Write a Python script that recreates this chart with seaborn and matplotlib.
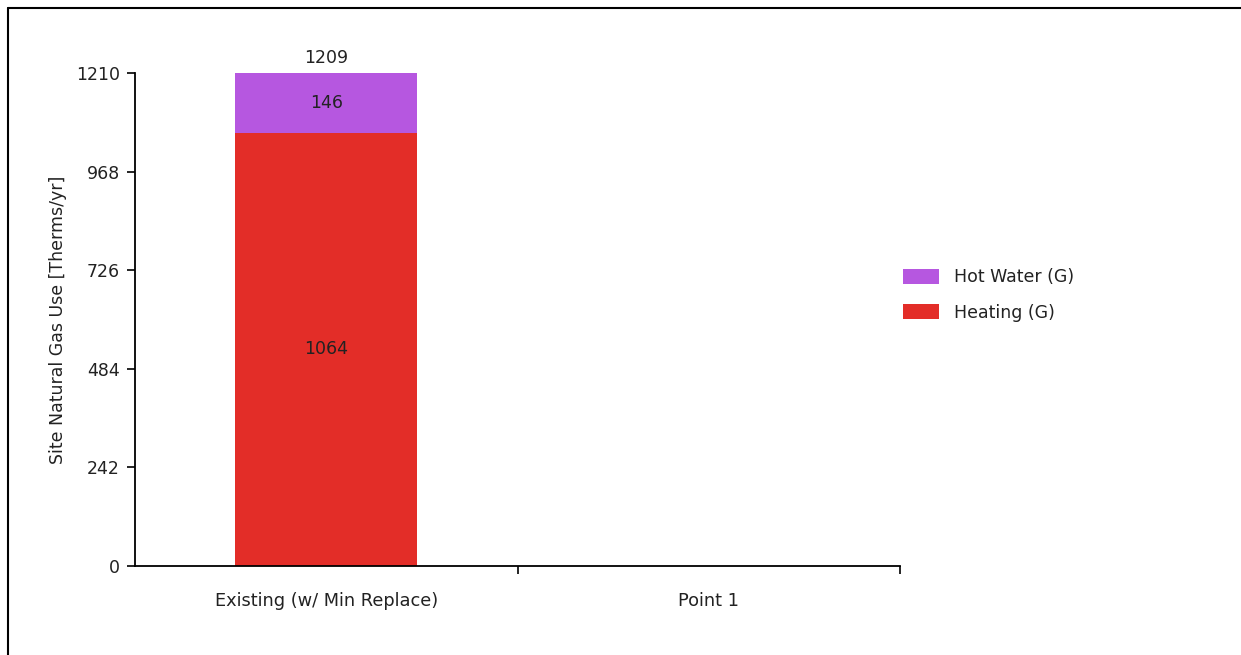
import matplotlib
matplotlib.use("Agg")
import matplotlib.pyplot as plt
from matplotlib.lines import Line2D
from matplotlib.patches import Patch
import seaborn as sns
import pandas as pd

categories = ["Existing (w/ Min Replace)", "Point 1"]
heating = [1063.6, 0.0]
hot_water = [145.6, 0.0]
y_ticks = [0, 242, 484, 726, 968, 1210]

series_names = ["Hot Water (G)", "Heating (G)"]
colors = {"Hot Water (G)": "#B657E0", "Heating (G)": "#E32D28"}

totals = [h + w for h, w in zip(heating, hot_water)]
df = pd.DataFrame({"category": categories, "heating": heating,
                   "hot_water": hot_water, "total": totals})

sns.set_theme(style="ticks")
plt.rcParams["font.family"] = ["DejaVu Sans"]
FS = 12.5
TXT = "#222222"

fig = plt.figure(figsize=(12.41, 6.55), dpi=100)
ax = fig.add_axes([135 / 1241, 1 - 566 / 655, (900 - 135) / 1241, (566 - 73) / 655])

# stacked bars: full stack in the hot-water colour, heating drawn over it
sns.barplot(data=df, x="category", y="total", color=colors["Hot Water (G)"],
            width=0.475, saturation=1, ax=ax, linewidth=0)
sns.barplot(data=df, x="category", y="heating", color=colors["Heating (G)"],
            width=0.475, saturation=1, ax=ax, linewidth=0)

ax.set_xlim(-0.5, 1.5)
ax.set_ylim(0, 1210)
ax.set_yticks(y_ticks)
ax.set_yticklabels([str(t) for t in y_ticks], fontsize=FS, color=TXT)
ax.set_xticks([0.5, 1.5])
ax.set_xticklabels([])
for i, c in enumerate(categories):
    ax.text(i, -0.052, c, transform=ax.get_xaxis_transform(), ha="center",
            va="top", fontsize=12.8, color=TXT)
ax.tick_params(axis="y", length=6, width=1.2, color="black", direction="out", pad=5)
ax.tick_params(axis="x", length=6, width=1.2, color="black", direction="out")
ax.set_xlabel("")
ax.set_ylabel("Site Natural Gas Use [Therms/yr]", fontsize=FS, color=TXT,
              labelpad=6)
sns.despine(ax=ax)
for s in ["left", "bottom"]:
    ax.spines[s].set_color("black")
    ax.spines[s].set_linewidth(1.3)

# value labels
for i in range(len(categories)):
    if totals[i] <= 0:
        continue
    ax.text(i, heating[i] / 2, f"{heating[i]:.0f}", ha="center", va="center",
            fontsize=FS, color=TXT)
    ax.text(i, heating[i] + hot_water[i] / 2, f"{hot_water[i]:.0f}", ha="center",
            va="center", fontsize=FS, color=TXT)
    ax.text(i, totals[i] + 16, f"{totals[i]:.0f}", ha="center", va="bottom",
            fontsize=FS, color=TXT)

handles = [Patch(facecolor=colors[n], edgecolor="none", label=n) for n in series_names]
fig.legend(handles=handles, loc="center left",
           bbox_to_anchor=(887 / 1241, 1 - 295 / 655), frameon=False,
           fontsize=FS, handlelength=2.1, handleheight=0.95,
           handletextpad=0.85, labelspacing=1.0, labelcolor=TXT)

# frame lines along the top and left edges
fig.add_artist(Line2D([8 / 1241, 1], [1 - 7.5 / 655, 1 - 7.5 / 655],
                      transform=fig.transFigure, color="black", lw=1.5))
fig.add_artist(Line2D([8 / 1241, 8 / 1241], [0, 1 - 7.5 / 655],
                      transform=fig.transFigure, color="black", lw=1.5))

fig.savefig("out.png", dpi=100, facecolor="white")
